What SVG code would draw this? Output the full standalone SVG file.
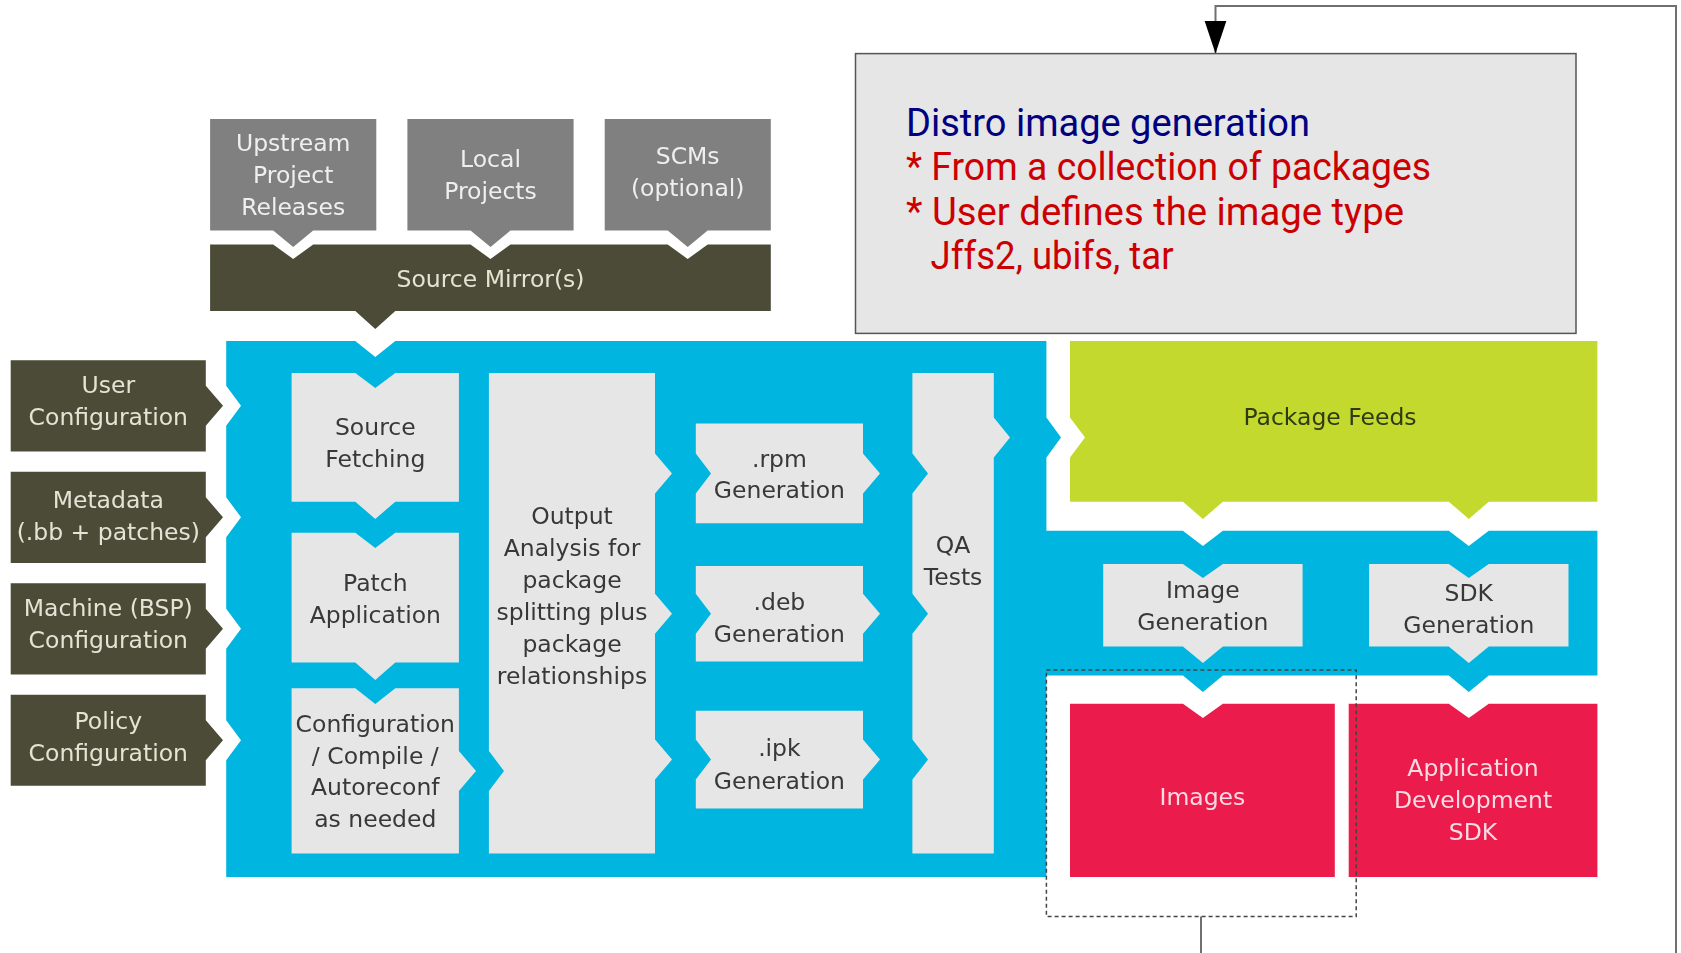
<svg xmlns="http://www.w3.org/2000/svg" width="1681" height="953" viewBox="0 0 1681 953">
  <defs>
    <style>
      .lbl { font-family: "DejaVu Sans", Verdana, sans-serif; font-size: 23.5px; text-anchor: middle; }
      .on-gray { fill: #efefef; }
      .on-dark { fill: #e4e4d6; }
      .on-light { fill: #383838; }
      .on-green { fill: #2f3b12; }
      .on-red { fill: #fadbe3; }
      .src { fill: #808080; }
      .dark { fill: #4c4b37; }
      .proc { fill: #e6e6e6; }
      .blue { fill: #00b5df; }
      .green { fill: #c4d92f; }
      .red { fill: #eb1b4c; }
      .note { font-family: Roboto, "Open Sans", sans-serif; font-size: 38px; }
      .wire { fill: none; stroke: #707070; stroke-width: 2; }
    </style>
    <marker id="arrow" markerUnits="userSpaceOnUse" markerWidth="34" markerHeight="24" refX="33" refY="11" orient="auto">
      <path d="M0,0 L33,11 L0,22 Z" fill="#000000"/>
    </marker>
    <filter id="soft" x="-2%" y="-2%" width="104%" height="104%">
      <feGaussianBlur stdDeviation="0.6"/>
    </filter>
  </defs>

  <rect width="1681" height="953" fill="#ffffff"/>

  <!-- Build workflow -->
  <g id="workflow" filter="url(#soft)">
    <!-- cyan build area -->
    <g id="build-area">
      <path class="blue" d="M226.2,340.9 H355.3 L375.3,357 L395.3,340.9 H1046.4 V417.4 L1061,437.4 L1046.4,457.4 V530.7 H1182.9 L1202.9,546 L1222.9,530.7 H1448.8 L1468.8,546 L1488.8,530.7 H1597.4 V675.4 H1488.8 L1468.8,692 L1448.8,675.4 H1222.9 L1202.9,692 L1182.9,675.4 H1046.4 V877 H226.2 V760.3 L241,740.3 L226.2,720.3 V648.8 L241,628.8 L226.2,608.8 V537.3 L241,517.3 L226.2,497.3 V425.8 L241,405.8 L226.2,385.8 Z"/>
    </g>

    <!-- upstream sources -->
    <g id="upstream-releases">
      <path class="src" d="M210.1,119 H376.3 V230.5 H313.2 L293.2,247 L273.2,230.5 H210.1 Z"/>
      <text class="lbl on-gray"><tspan x="293.2" y="150.8">Upstream</tspan><tspan x="293.2" y="182.8">Project</tspan><tspan x="293.2" y="214.8">Releases</tspan></text>
    </g>
    <g id="local-projects">
      <path class="src" d="M407.4,119 H573.6 V230.5 H510.5 L490.5,247 L470.5,230.5 H407.4 Z"/>
      <text class="lbl on-gray"><tspan x="490.5" y="166.7">Local</tspan><tspan x="490.5" y="198.8">Projects</tspan></text>
    </g>
    <g id="scms">
      <path class="src" d="M604.7,119 H770.8 V230.5 H707.7 L687.7,247 L667.7,230.5 H604.7 Z"/>
      <text class="lbl on-gray"><tspan x="687.7" y="163.5">SCMs</tspan><tspan x="687.7" y="195.6">(optional)</tspan></text>
    </g>
    <g id="source-mirrors">
      <path class="dark" d="M210.1,244.4 H273.2 L293.2,259 L313.2,244.4 H470.5 L490.5,259 L510.5,244.4 H667.7 L687.7,259 L707.7,244.4 H770.8 V311 H395.3 L375.3,329 L355.3,311 H210.1 Z"/>
      <text class="lbl on-dark" x="490.5" y="286.7">Source Mirror(s)</text>
    </g>

    <!-- configuration inputs -->
    <g id="user-config">
      <path class="dark" d="M10.7,360.2 H205.8 V385.8 L223,405.8 L205.8,425.8 V451.4 H10.7 Z"/>
      <text class="lbl on-dark"><tspan x="108.3" y="392.9">User</tspan><tspan x="108.3" y="425">Configuration</tspan></text>
    </g>
    <g id="metadata">
      <path class="dark" d="M10.7,471.7 H205.8 V497.3 L223,517.3 L205.8,537.3 V562.9 H10.7 Z"/>
      <text class="lbl on-dark"><tspan x="108.3" y="507.6">Metadata</tspan><tspan x="108.3" y="539.8">(.bb + patches)</tspan></text>
    </g>
    <g id="machine-config">
      <path class="dark" d="M10.7,583.2 H205.8 V608.8 L223,628.8 L205.8,648.8 V674.4 H10.7 Z"/>
      <text class="lbl on-dark"><tspan x="108.3" y="615.9">Machine (BSP)</tspan><tspan x="108.3" y="648">Configuration</tspan></text>
    </g>
    <g id="policy-config">
      <path class="dark" d="M10.7,694.7 H205.8 V720.3 L223,740.3 L205.8,760.3 V785.8 H10.7 Z"/>
      <text class="lbl on-dark"><tspan x="108.3" y="728.5">Policy</tspan><tspan x="108.3" y="760.6">Configuration</tspan></text>
    </g>

    <!-- build steps -->
    <g id="source-fetching">
      <path class="proc" d="M291.6,373.1 H355.3 L375.3,388 L395.3,373.1 H458.9 V501.7 H395.3 L375.3,519 L355.3,501.7 H291.6 Z"/>
      <text class="lbl on-light"><tspan x="375.3" y="434.7">Source</tspan><tspan x="375.3" y="466.9">Fetching</tspan></text>
    </g>
    <g id="patch-application">
      <path class="proc" d="M291.6,532.8 H355.3 L375.3,548 L395.3,532.8 H458.9 V662.6 H395.3 L375.3,680 L355.3,662.6 H291.6 Z"/>
      <text class="lbl on-light"><tspan x="375.3" y="591.2">Patch</tspan><tspan x="375.3" y="623.4">Application</tspan></text>
    </g>
    <g id="configure-compile">
      <path class="proc" d="M291.6,688.3 H355.3 L375.3,704 L395.3,688.3 H458.9 V751 L476,771 L458.9,791 V853.4 H291.6 Z"/>
      <text class="lbl on-light"><tspan x="375.3" y="731.7">Configuration</tspan><tspan x="375.3" y="763.8">/ Compile /</tspan><tspan x="375.3" y="794.9">Autoreconf</tspan><tspan x="375.3" y="827">as needed</tspan></text>
    </g>
    <g id="output-analysis">
      <path class="proc" d="M488.9,373.1 H655 V453.4 L672,473.4 L655,493.4 V593.8 L672,613.8 L655,633.8 V739.6 L672,759.6 L655,779.6 V853.4 H488.9 V791 L504,771 L488.9,751 Z"/>
      <text class="lbl on-light"><tspan x="572" y="523.7">Output</tspan><tspan x="572" y="555.7">Analysis for</tspan><tspan x="572" y="587.7">package</tspan><tspan x="572" y="619.7">splitting plus</tspan><tspan x="572" y="651.7">package</tspan><tspan x="572" y="683.7">relationships</tspan></text>
    </g>
    <g id="rpm-generation">
      <path class="proc" d="M695.8,423.5 H863 V453.4 L880,473.4 L863,493.4 V523.2 H695.8 V493.4 L711,473.4 L695.8,453.4 Z"/>
      <text class="lbl on-light"><tspan x="779.4" y="466.9">.rpm</tspan><tspan x="779.4" y="498">Generation</tspan></text>
    </g>
    <g id="deb-generation">
      <path class="proc" d="M695.8,566.1 H863 V593.8 L880,613.8 L863,633.8 V661.5 H695.8 V633.8 L711,613.8 L695.8,593.8 Z"/>
      <text class="lbl on-light"><tspan x="779.4" y="609.5">.deb</tspan><tspan x="779.4" y="641.6">Generation</tspan></text>
    </g>
    <g id="ipk-generation">
      <path class="proc" d="M695.8,710.8 H863 V739.6 L880,759.6 L863,779.6 V808.4 H695.8 V779.6 L711,759.6 L695.8,739.6 Z"/>
      <text class="lbl on-light"><tspan x="779.4" y="756.3">.ipk</tspan><tspan x="779.4" y="788.5">Generation</tspan></text>
    </g>
    <g id="qa-tests">
      <path class="proc" d="M912.4,373.1 H993.8 V417.4 L1010,437.4 L993.8,457.4 V853.4 H912.4 V779.6 L928,759.6 L912.4,739.6 V633.8 L928,613.8 L912.4,593.8 V493.4 L928,473.4 L912.4,453.4 Z"/>
      <text class="lbl on-light"><tspan x="953.1" y="552.6">QA</tspan><tspan x="953.1" y="584.8">Tests</tspan></text>
    </g>

    <!-- outputs -->
    <g id="package-feeds">
      <path class="green" d="M1070,340.9 H1597.4 V501.7 H1488.8 L1468.8,519 L1448.8,501.7 H1222.9 L1202.9,519 L1182.9,501.7 H1070 V457.4 L1085,437.4 L1070,417.4 Z"/>
      <text class="lbl on-green" x="1330" y="425">Package Feeds</text>
    </g>
    <g id="image-generation">
      <path class="proc" d="M1103.2,564 H1182.9 L1202.9,578 L1222.9,564 H1302.6 V646.5 H1222.9 L1202.9,663 L1182.9,646.5 H1103.2 Z"/>
      <text class="lbl on-light"><tspan x="1202.9" y="597.7">Image</tspan><tspan x="1202.9" y="629.8">Generation</tspan></text>
    </g>
    <g id="sdk-generation">
      <path class="proc" d="M1369.1,564 H1448.8 L1468.8,578 L1488.8,564 H1568.5 V646.5 H1488.8 L1468.8,663 L1448.8,646.5 H1369.1 Z"/>
      <text class="lbl on-light"><tspan x="1468.8" y="600.9">SDK</tspan><tspan x="1468.8" y="633">Generation</tspan></text>
    </g>
    <g id="images">
      <path class="red" d="M1070,703.8 H1182.9 L1202.9,718 L1222.9,703.8 H1334.8 V877 H1070 Z"/>
      <text class="lbl on-red" x="1202.4" y="804.6">Images</text>
    </g>
    <g id="app-sdk">
      <path class="red" d="M1348.7,703.8 H1448.8 L1468.8,718 L1488.8,703.8 H1597.4 V877 H1348.7 Z"/>
      <text class="lbl on-red"><tspan x="1473" y="775.6">Application</tspan><tspan x="1473" y="807.8">Development</tspan><tspan x="1473" y="840">SDK</tspan></text>
    </g>
  </g>

  <!-- dashed highlight around the image output -->
  <g id="images-highlight">
    <rect x="1046.4" y="670" width="309.8" height="246.6" fill="none" stroke="#444444" stroke-width="1.5" stroke-dasharray="4 3"/>
  </g>

  <!-- explanatory note -->
  <g id="image-note">
    <rect x="855.5" y="53.6" width="720.5" height="279.8" fill="#e6e6e6" stroke="#555555" stroke-width="1.5"/>
    <text class="note" x="906" y="136" fill="#000080" textLength="404" lengthAdjust="spacingAndGlyphs">Distro image generation</text>
    <text class="note" x="906" y="180" fill="#cc0000" textLength="525" lengthAdjust="spacingAndGlyphs">* From a collection of packages</text>
    <text class="note" x="906" y="225" fill="#cc0000" textLength="498" lengthAdjust="spacingAndGlyphs">* User defines the image type</text>
    <text class="note" x="930.6" y="269" fill="#cc0000" textLength="243" lengthAdjust="spacingAndGlyphs">Jffs2, ubifs, tar</text>
  </g>

  <!-- connectors -->
  <g id="connectors">
    <path class="wire" d="M1201,916.6 V975 H1676 V6 H1215.5 V53.6" marker-end="url(#arrow)"/>
  </g>
</svg>
